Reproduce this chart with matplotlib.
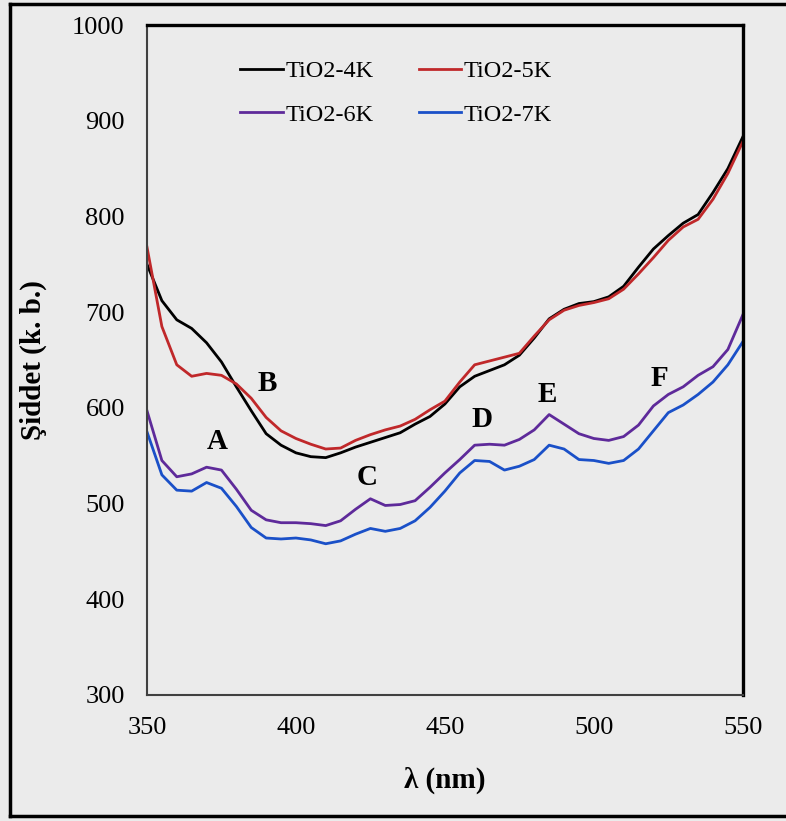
import numpy as np
import matplotlib.pyplot as plt
from matplotlib.lines import Line2D

plt.rcParams['font.family'] = ['Liberation Serif', 'DejaVu Serif']

wl = np.arange(350, 551, 5)

tio2_4k = [750, 712, 692, 683, 668, 648, 622, 597, 573, 561, 553, 549, 548, 553, 559,
           564, 569, 574, 583, 591, 604, 622, 633, 639, 645, 655, 673, 693, 703, 709,
           711, 716, 727, 747, 766, 780, 793, 802, 825, 850, 883]
tio2_5k = [768, 685, 645, 633, 636, 634, 625, 610, 590, 576, 568, 562, 557, 558, 566,
           572, 577, 581, 588, 598, 607, 627, 645, 649, 653, 657, 675, 692, 702, 707,
           710, 714, 724, 740, 757, 775, 789, 797, 818, 845, 878]
tio2_6k = [597, 545, 528, 531, 538, 535, 515, 493, 483, 480, 480, 479, 477, 482, 494,
           505, 498, 499, 503, 517, 532, 546, 561, 562, 561, 567, 577, 593, 583, 573,
           568, 566, 570, 582, 602, 614, 622, 634, 643, 661, 697]
tio2_7k = [575, 530, 514, 513, 522, 516, 497, 475, 464, 463, 464, 462, 458, 461, 468,
           474, 471, 474, 482, 496, 513, 532, 545, 544, 535, 539, 546, 561, 557, 546,
           545, 542, 545, 557, 576, 595, 603, 614, 627, 645, 669]

peak_labels = ['A', 'B', 'C', 'D', 'E', 'F']
peak_x = [373.5, 390.5, 424, 462.5, 484.5, 522]
peak_y = [565, 625, 527, 588, 614, 631]

bg = '#ebebeb'
fig = plt.figure(figsize=(7.86, 8.21), dpi=100, facecolor=bg)
ax = fig.add_axes([0.187, 0.1535, 0.758, 0.816], facecolor=bg)

kw = dict(lw=2, solid_joinstyle='round')
ax.plot(wl, tio2_4k, color='black', label='TiO2-4K', **kw)
ax.plot(wl, tio2_5k, color='#c0282a', label='TiO2-5K', **kw)
ax.plot(wl, tio2_6k, color='#5e2a9a', label='TiO2-6K', **kw)
ax.plot(wl, tio2_7k, color='#1a50c8', label='TiO2-7K', **kw)

for t, x, y in zip(peak_labels, peak_x, peak_y):
    ax.text(x, y, t, fontsize=21, fontweight='bold', ha='center', va='center')

ax.set_xlim(350, 550)
ax.set_ylim(300, 1000)
ax.set_xticks(range(350, 551, 50))
ax.set_yticks(range(300, 1001, 100))
ax.tick_params(length=0, labelsize=19, pad=16)

for s in ['left', 'bottom']:
    ax.spines[s].set_color('#404040')
    ax.spines[s].set_linewidth(1.5)
for s in ['top', 'right']:
    ax.spines[s].set_color('black')
    ax.spines[s].set_linewidth(2.4)

ax.set_xlabel('λ (nm)', fontsize=21, fontweight='bold', labelpad=20)
ax.set_ylabel('Şiddet (k. b.)', fontsize=21, fontweight='bold', labelpad=18)

# order rows: 4K 5K / 6K 7K
h, l = ax.get_legend_handles_labels()
order = [0, 2, 1, 3]
fig.legend([h[i] for i in order], [l[i] for i in order], ncol=2, frameon=False,
           loc='upper left', bbox_to_anchor=(240 / 786, 1 - 60 / 821),
           fontsize=17.5, handlelength=1.75, handletextpad=0.12,
           columnspacing=1.85, labelspacing=0.9, borderpad=0, borderaxespad=0)

# outer frame (left, top, bottom only, as in the scan)
for xs, ys in [([10, 10], [4, 816]), ([10, 786], [4, 4]), ([10, 786], [816, 816])]:
    fig.add_artist(Line2D([x / 786 for x in xs], [1 - y / 821 for y in ys],
                          transform=fig.transFigure, color='black', lw=2.5))

fig.savefig('out.png', dpi=100, facecolor=bg)
